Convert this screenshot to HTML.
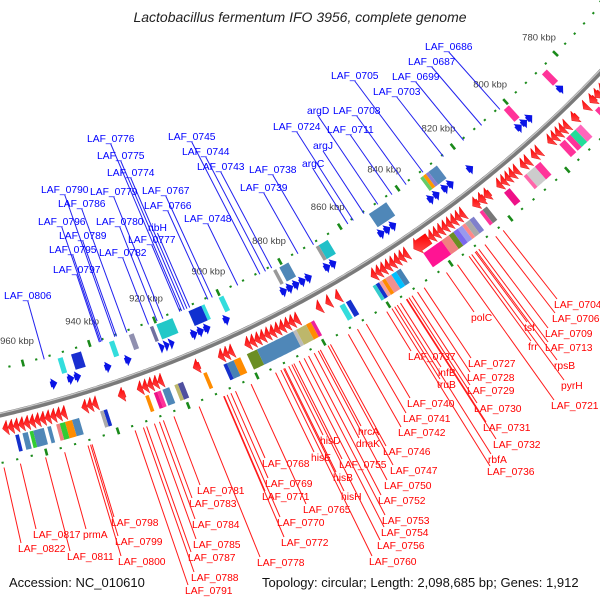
<!DOCTYPE html>
<html><head><meta charset="utf-8"><style>
html,body{margin:0;padding:0;background:#fff}
svg{display:block}
text{font-family:"Liberation Sans",sans-serif}
</style></head><body>
<svg id="map" width="600" height="600" viewBox="0 0 600 600">
<defs>
<linearGradient id="redg" x1="0" y1="0" x2="0" y2="1"><stop offset="0" stop-color="#ff0000"/><stop offset="1" stop-color="#ff4a4a"/></linearGradient>
</defs>
<text x="300" y="22" text-anchor="middle" font-size="14" font-style="italic" fill="#222">Lactobacillus fermentum IFO 3956, complete genome</text>
<g id="layer"></g>
<text x="9" y="587" font-size="13" fill="#111">Accession: NC_010610</text>
<text x="262" y="587" font-size="13" fill="#111">Topology: circular; Length: 2,098,685 bp; Genes: 1,912</text>
</svg>
<script>
// ---- data ----
const tickKbp = [780,800,820,840,860,880,900,920,940,960];
const redGenes = [[777,779],[779,781],[781,783],[784,785.5],[788,790],[791.5,793],[793,794.5],[794.5,796],[796,797.5],[797.5,799],[802,803.5],[803.5,805],[806,807.5],[807.5,809],[810,811.5],[811.5,813],[813,814.5],[814.5,816],[816,817.5],[820,822],[822,824],[824,826],[829,830.5],[830.5,832],[832,833.5],[833.5,835],[835,836.5],[836.5,838],[838,839.5],[839.5,841],[841,846],[848,849.5],[849.5,851],[851,852.5],[852.5,854],[854,855.5],[855.5,857],[857,858.5],[858.5,860],[870,871.5],[873,874.5],[876,877.5],[883,884.5],[884.5,886],[886,887.5],[887.5,889],[889,890.5],[890.5,892],[892,893.5],[893.5,895],[895,896.5],[896.5,898],[898,899.5],[903,904.5],[904.5,906],[906,907.5],[913,915],[924,925.5],[925.5,927],[927,928.5],[928.5,930],[930,931.5],[935,937],[943,944.5],[944.5,946],[946,947.5],[952,953.5],[953.5,955],[955,956.5],[956.5,958],[958,959.5],[959.5,961],[961,962.5],[962.5,964],[964,965.5],[965.5,967],[967,968.5],[968.5,970]];
const blueGenes = [[785,787],[797,799],[799,801],[801,803],[819,821],[826,828],[828,830],[831,833],[833,835],[846,848],[848,850],[850,852],[866,868],[868,870],[874,876],[876,878],[878,880],[880,882],[882,884],[900,902],[906,908],[908,910],[910,912],[917,918.5],[918.5,920],[920,921.5],[930,932],[936,938],[945,947],[947,949],[952,954]];
const blueBoxes = [[785,787,'#ff3399'],[800,802,'#ff3399'],[827,830,'#5588bb'],[830,831,'#8a7fd0'],[831,832,'#ff9900'],[832,833,'#66cc66'],[845,851,'#4f87b8'],[865,868,'#20c0c8'],[868,869,'#999999'],[878,881,'#4f87b8'],[882,883,'#999999'],[899,900.5,'#33dddd'],[905,906,'#33dddd'],[906,910,'#1030d0'],[915,920,'#22c8c8'],[921,922,'#7070a0'],[927,928.5,'#9090b0'],[933,934.5,'#33dddd'],[943,946,'#1a2fd0'],[948.5,950,'#33dddd']];
const redBoxes = [[782,783.5,'#ff3399'],[789,791,'#ff66bb'],[791,793,'#22dd99'],[793,794.5,'#ff3399'],[795,797,'#ff3399'],[804,806,'#ff3399'],[806,809,'#cccccc'],[809,810,'#ff66aa'],[815,817,'#ee1188'],[823,824.5,'#777777'],[824.5,825.5,'#ff3399'],[827.5,829,'#8080cc'],[829,830.5,'#aaaaaa'],[830.5,831.5,'#ff8888'],[831.5,833,'#9999ee'],[833,834.5,'#7b68ee'],[834.5,836,'#6b8e23'],[836,838.5,'#f08080'],[838.5,844.5,'#ff1493'],[852,853.5,'#4682b4'],[853.5,855,'#00bfff'],[855,857,'#f09090'],[857,858,'#ff8c00'],[858,859,'#f4a0a0'],[859,860,'#1530cc'],[860,861,'#33cccc'],[868,869.5,'#1530cc'],[870,871.5,'#33dddd'],[879.5,880.5,'#ee2299'],[880.5,882,'#ff8c00'],[882,885,'#bdb76b'],[885,886,'#bbbbbb'],[886,897,'#4f87b8'],[897,900,'#6b8e23'],[902,904,'#ff8c00'],[904,906,'#4682b4'],[906,907,'#1530cc'],[912,913,'#ff8c00'],[919,920.5,'#5050a0'],[920.5,921.5,'#bdb76b'],[923,925,'#4f87b8'],[925.5,926.5,'#ff3399'],[926.5,927.5,'#ee1188'],[929,930,'#ff8c00'],[941,942,'#1530cc'],[942,943,'#aaaaaa'],[949,951,'#4f87b8'],[951,953,'#ff8c00'],[953,954.5,'#32cd32'],[954.5,955.5,'#f08080'],[957,958,'#4f87b8'],[959,962,'#4f87b8'],[962,963,'#32cd32'],[963.5,965,'#4f87b8'],[966,967,'#1530cc']];
const blueLabels = [['LAF_0686',425,50],['LAF_0687',408,65],['LAF_0705',331,79],['LAF_0699',392,80],['LAF_0703',373,95],['argD',307,114],['LAF_0708',333,114],['LAF_0724',273,130],['LAF_0711',327,133],['argJ',313,149],['argC',302,167],['LAF_0776',87,142],['LAF_0745',168,140],['LAF_0744',182,155],['LAF_0775',97,159],['LAF_0743',197,170],['LAF_0738',249,173],['LAF_0774',107,176],['LAF_0790',41,193],['LAF_0779',90,195],['LAF_0767',142,194],['LAF_0739',240,191],['LAF_0786',58,207],['LAF_0766',144,209],['LAF_0748',184,222],['LAF_0796',38,225],['LAF_0780',96,225],['ribH',148,231],['LAF_0789',59,239],['LAF_0777',128,243],['LAF_0795',49,253],['LAF_0782',99,256],['LAF_0797',53,273],['LAF_0806',4,299]];
const redLabels = [['LAF_0704',554,308],['LAF_0706',552,322],['polC',471,321],['tsf',524,331],['LAF_0709',545,337],['LAF_0713',545,351],['frr',528,350],['LAF_0737',408,360],['LAF_0727',468,367],['rpsB',554,369],['infB',438,376],['LAF_0728',467,381],['truB',437,388],['pyrH',561,389],['LAF_0729',467,394],['LAF_0740',407,407],['LAF_0721',551,409],['LAF_0730',474,412],['LAF_0741',403,422],['LAF_0731',483,431],['hrcA',358,435],['LAF_0742',398,436],['hisD',320,444],['dnaK',356,447],['LAF_0732',493,448],['LAF_0746',383,455],['hisE',311,461],['rbfA',488,463],['LAF_0768',262,467],['LAF_0755',339,468],['LAF_0747',390,474],['LAF_0736',487,475],['hisB',333,481],['LAF_0769',265,487],['LAF_0750',384,489],['LAF_0771',262,500],['hisH',341,500],['LAF_0752',378,504],['LAF_0765',303,513],['LAF_0770',277,526],['LAF_0753',382,524],['LAF_0754',381,536],['LAF_0772',281,546],['LAF_0756',377,549],['LAF_0778',257,566],['LAF_0760',369,565],['LAF_0781',197,494],['LAF_0783',189,507],['LAF_0784',192,528],['LAF_0785',193,548],['LAF_0787',188,561],['LAF_0788',191,581],['LAF_0791',185,594],['LAF_0798',111,526],['LAF_0799',115,545],['LAF_0800',118,565],['LAF_0817',33,538],['prmA',83,538],['LAF_0822',18,552],['LAF_0811',67,560]];

// ---- geometry ----
const CX=-271, CY=-756;
const A0=44.41, K=360/2098.685;
function ang(k){return (A0+(k-780)*K)*Math.PI/180;}
function pol(k,r){const a=ang(k);return [CX+r*Math.cos(a),CY+r*Math.sin(a)];}
function kOf(x,y){const a=Math.atan2(y-CY,x-CX)*180/Math.PI;return 780+(a-A0)/K;}
const NS='http://www.w3.org/2000/svg';
const layer=document.getElementById('layer');
function mk(tag,attrs,parent){const e=document.createElementNS(NS,tag);for(const k in attrs)e.setAttribute(k,attrs[k]);(parent||layer).appendChild(e);return e;}
function pts(arr){return arr.map(p=>p[0].toFixed(1)+','+p[1].toFixed(1)).join(' ');}
function arcBox(s,e,r0,r1){const a=[];const n=Math.max(2,Math.ceil((e-s)/0.5));for(let i=0;i<=n;i++)a.push(pol(s+(e-s)*i/n,r1));for(let i=n;i>=0;i--)a.push(pol(s+(e-s)*i/n,r0));return pts(a);}
const R_BB=1202, R_TICK_IN=1157, R_TICK_LBL=1134, R_BBOX0=1162, R_BBOX1=1178, R_BARR=1185, R_RARR=1216, R_RBOX0=1225, R_RBOX1=1242, R_TICK_OUT=1249;

// backbone
(function(){
  const a=[];for(let k=730;k<=1010;k+=1)a.push(pol(k,R_BB));
  const g=mk('path',{d:'M'+a.map(p=>p[0].toFixed(1)+' '+p[1].toFixed(1)).join(' L'),fill:'none',stroke:'#7a7a7a','stroke-width':5});
  
  
  const b=[];for(let k=730;k<=1010;k+=1)b.push(pol(k,R_BB-1.5));
  const h=mk('path',{d:'M'+b.map(p=>p[0].toFixed(1)+' '+p[1].toFixed(1)).join(' L'),fill:'none',stroke:'#c8c8c8','stroke-width':1.2});
  
  
})();

// dotted tick rings
for(let k=740;k<=1000;k+=4){
  const major=(k%20===0);
  [R_TICK_IN,R_TICK_OUT].forEach(r=>{
    const half=major?3.5:1;
    const p0=pol(k,r-half),p1=pol(k,r+half);
    const l=mk('line',{x1:p0[0],y1:p0[1],x2:p1[0],y2:p1[1],stroke:'#1a8a1a','stroke-width':major?2.6:2.2});
    
    
  });
}
tickKbp.forEach(k=>{
  const p=pol(k,R_TICK_LBL);
  const t=mk('text',{x:p[0],y:p[1]+3,'text-anchor':'middle','font-size':9.5,fill:'#444'});
  t.textContent=k+' kbp';
  
  
});

// boxes
blueBoxes.forEach(b=>{
  const e=mk('polygon',{points:arcBox(b[0],b[1],R_BBOX0,R_BBOX1),fill:b[2]});
  
  
});
redBoxes.forEach(b=>{
  const e=mk('polygon',{points:arcBox(b[0],b[1],R_RBOX0,R_RBOX1),fill:b[2]});
  
  
});

// genes as arrows
function arrow(s,e,r,hw,bw,dirHigh){
  const len=e-s, h=Math.min(len,1.6);
  let a=[];
  if(dirHigh){
    a.push(pol(s,r-bw),pol(e-h,r-bw),pol(e-h,r-hw),pol(e,r),pol(e-h,r+hw),pol(e-h,r+bw),pol(s,r+bw));
  }else{
    a.push(pol(e,r-bw),pol(s+h,r-bw),pol(s+h,r-hw),pol(s,r),pol(s+h,r+hw),pol(s+h,r+bw),pol(e,r+bw));
  }
  return pts(a);
}
redGenes.forEach(g=>{
  const big=(g[1]-g[0])>3;
  const e=mk('polygon',{points:arrow(g[0],g[1],R_RARR,big?9:7.5,big?6:3.5,true),fill:'url(#redg)',stroke:'#e00000','stroke-width':0.4});
  
  
});
blueGenes.forEach(g=>{
  const e=mk('polygon',{points:arrow(g[0],g[1],R_BARR,6,3,false),fill:'#0a14e6'});
  
  
});

// labels
blueLabels.forEach(L=>{
  const t=mk('text',{x:L[1],y:L[2],'font-size':10.3,fill:'#0000ff'});
  t.textContent=L[0];
  
  
  const w=t.getComputedTextLength();
  const ax=L[1]+w/2, ay=L[2]+2;
  const p=pol(kOf(ax,ay),R_TICK_IN+2);
  const l=mk('line',{x1:ax,y1:ay,x2:p[0],y2:p[1],stroke:'#2222ee','stroke-width':1});
  
  
});
redLabels.forEach(L=>{
  const t=mk('text',{x:L[1],y:L[2],'font-size':10.3,fill:'#ff0000'});
  t.textContent=L[0];
  
  
  const ax=L[1]+3, ay=L[2]-9;
  const p=pol(kOf(ax,ay),R_TICK_OUT+5);
  const l=mk('line',{x1:ax,y1:ay,x2:p[0],y2:p[1],stroke:'#ff1a1a','stroke-width':1});
  
  
});
</script>
</body></html>
